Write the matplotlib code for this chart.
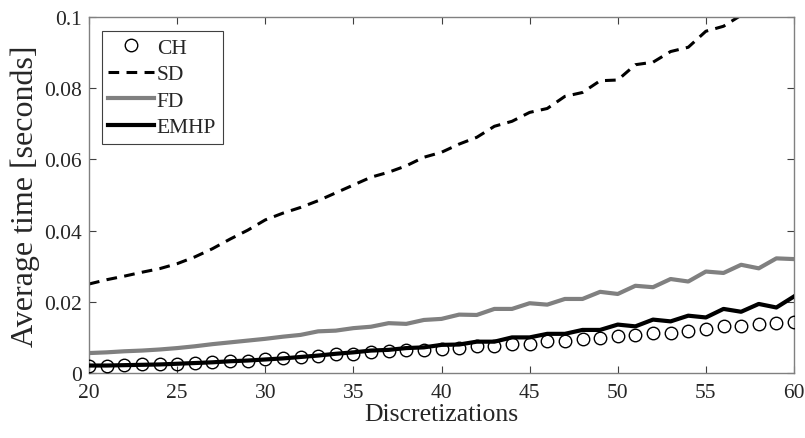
import numpy as np
import matplotlib
matplotlib.use("Agg")
import matplotlib.pyplot as plt

plt.rcParams['font.family'] = ['Liberation Serif', 'DejaVu Serif']
plt.rcParams['mathtext.fontset'] = 'stix'

# discretizations (x axis)
disc = list(range(20, 61))

# average time [seconds]
ch = [0.0021, 0.0021, 0.0022, 0.0024, 0.0025, 0.0026, 0.0028, 0.0030, 0.0033, 0.0035,
      0.0038, 0.0041, 0.0044, 0.0047, 0.0053, 0.0054, 0.0058, 0.0062, 0.0065, 0.0066,
      0.0068, 0.0071, 0.0075, 0.0077, 0.0081, 0.0082, 0.0090, 0.0091, 0.0096, 0.0098,
      0.0105, 0.0108, 0.0112, 0.0113, 0.0117, 0.0124, 0.0131, 0.0133, 0.0139, 0.0140,
      0.0144]
sd = [0.0250, 0.0262, 0.0272, 0.0283, 0.0293, 0.0307, 0.0326, 0.0349, 0.0376, 0.0401,
      0.0430, 0.0449, 0.0465, 0.0484, 0.0506, 0.0528, 0.0550, 0.0564, 0.0582, 0.0606,
      0.0620, 0.0643, 0.0662, 0.0693, 0.0707, 0.0732, 0.0743, 0.0777, 0.0788, 0.0821,
      0.0823, 0.0866, 0.0873, 0.0903, 0.0915, 0.0960, 0.0974, 0.1005, 0.1030, 0.1050,
      0.1080]
fd = [0.0056, 0.0058, 0.0061, 0.0063, 0.0066, 0.0070, 0.0075, 0.0081, 0.0086, 0.0091,
      0.0096, 0.0102, 0.0107, 0.0117, 0.0119, 0.0126, 0.0130, 0.0140, 0.0138, 0.0149,
      0.0152, 0.0164, 0.0163, 0.0180, 0.0180, 0.0196, 0.0192, 0.0208, 0.0208, 0.0228,
      0.0222, 0.0245, 0.0241, 0.0264, 0.0257, 0.0285, 0.0281, 0.0304, 0.0294, 0.0322,
      0.0320]
emhp = [0.0021, 0.0021, 0.0022, 0.0023, 0.0024, 0.0026, 0.0028, 0.0030, 0.0033, 0.0035,
        0.0038, 0.0041, 0.0045, 0.0049, 0.0054, 0.0058, 0.0063, 0.0065, 0.0070, 0.0072,
        0.0079, 0.0080, 0.0088, 0.0088, 0.0100, 0.0100, 0.0110, 0.0110, 0.0121, 0.0121,
        0.0136, 0.0131, 0.0150, 0.0145, 0.0161, 0.0156, 0.0180, 0.0172, 0.0194, 0.0184,
        0.0215]

xticks = [20, 25, 30, 35, 40, 45, 50, 55, 60]
yticks = [0, 0.02, 0.04, 0.06, 0.08, 0.1]
yticklabels = ['0', '0.02', '0.04', '0.06', '0.08', '0.1']

fig = plt.figure(figsize=(8.05, 4.39), dpi=100)
ax = fig.add_axes([89 / 805, 65 / 439, 705 / 805, 356 / 439])

ax.plot(disc, ch, linestyle='none', marker='o', markersize=9, markerfacecolor='none',
        markeredgecolor='black', markeredgewidth=1.0, label='CH', zorder=4)
ax.plot(disc, sd, color='black', linewidth=2.2, dashes=(3.5, 2.4), label='SD')
ax.plot(disc, fd, color='#808080', linewidth=3.0, label='FD')
ax.plot(disc, emhp, color='black', linewidth=3.0, label='EMHP', zorder=3)

ax.set_xlim(20, 60)
ax.set_ylim(0, 0.1)
ax.set_xticks(xticks)
ax.set_yticks(yticks)
ax.set_yticklabels(yticklabels)

ax.tick_params(direction='in', top=True, right=True, length=5, width=0.8,
               color='#404040', labelsize=15.5, labelcolor='#262626')
ax.tick_params(axis='x', pad=7)
ax.tick_params(axis='y', pad=5)
for sp in ax.spines.values():
    sp.set_color('#808080')
    sp.set_linewidth(1.0)

ax.set_xlabel('Discretizations', fontsize=18.5, color='#262626', labelpad=1)
ax.set_ylabel('Average time [seconds]', fontsize=23, color='#262626', labelpad=3)

leg = ax.legend(loc='upper left', bbox_to_anchor=(13 / 705, 1 - 14 / 356), borderaxespad=0,
                fontsize=15.5, handlelength=2.1, handletextpad=0.15, labelspacing=0.3,
                borderpad=0.3, fancybox=False, framealpha=1, edgecolor='#404040')
leg.get_frame().set_linewidth(0.8)
for t in leg.get_texts():
    t.set_color('#262626')

fig.savefig('out.png', dpi=100)
